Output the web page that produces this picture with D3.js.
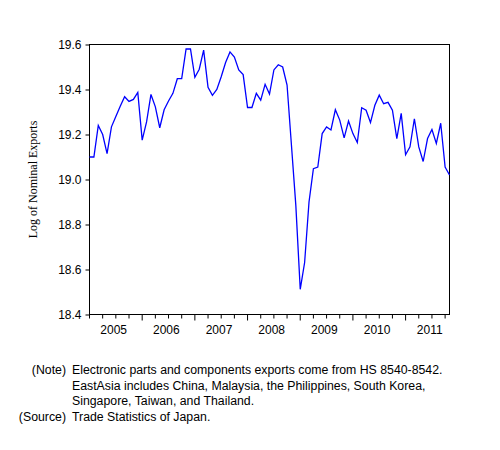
<!DOCTYPE html>
<html>
<head>
<meta charset="utf-8">
<script src="https://cdn.jsdelivr.net/npm/d3@7"></script>
<style>
  body { margin: 0; background: #fff; }
  svg { display: block; }
</style>
</head>
<body>
<svg id="chart" width="500" height="450"></svg>
<script>
// monthly observations, 2005M01 .. 2011M11
const startYear = 2005;
const exportsLog = [
  19.10, 19.10, 19.24, 19.20, 19.115, 19.234, 19.28, 19.326, 19.368, 19.347, 19.356, 19.387,
  19.175, 19.256, 19.378, 19.323, 19.23, 19.31, 19.349, 19.383, 19.448, 19.448, 19.58, 19.58,
  19.454, 19.49, 19.575, 19.41, 19.374, 19.40, 19.457, 19.52, 19.567, 19.544, 19.487, 19.466,
  19.32, 19.32, 19.383, 19.353, 19.423, 19.38, 19.487, 19.51, 19.50, 19.42, 19.152, 18.884,
  18.512, 18.631, 18.90, 19.048, 19.055, 19.204, 19.234, 19.22, 19.31, 19.264, 19.185, 19.26,
  19.204, 19.164, 19.319, 19.308, 19.253, 19.33, 19.375, 19.337, 19.343, 19.308, 19.182, 19.294,
  19.11, 19.145, 19.27, 19.145, 19.08, 19.182, 19.222, 19.16, 19.25, 19.055, 19.02
];
const yearLabels = ["2005", "2006", "2007", "2008", "2009", "2010", "2011"];
const yTicks = [18.4, 18.6, 18.8, 19.0, 19.2, 19.4, 19.6];
const yTitle = "Log of Nominal Exports";
const noteLabels = ["(Note)", "", "", "(Source)"];
const noteLines = [
  "Electronic parts and components exports come from HS 8540-8542.",
  "EastAsia includes China, Malaysia, the Philippines, South Korea,",
  "Singapore, Taiwan, and Thailand.",
  "Trade Statistics of Japan."
];

const svg = d3.select("#chart");
const plotL = 89.5, plotR = 449.5, plotT = 44.5, plotB = 314.5;

const x = d3.scaleLinear()
  .domain([0, exportsLog.length - 1])
  .range([plotL, plotR]);

const y = d3.scaleLinear()
  .domain([18.4, 19.6])
  .range([plotB, plotT]);

// frame
svg.append("rect")
  .attr("x", plotL).attr("y", plotT)
  .attr("width", plotR - plotL).attr("height", plotB - plotT)
  .attr("fill", "none").attr("stroke", "#000").attr("stroke-width", 1);

// y axis
const yAxis = svg.append("g")
  .attr("transform", `translate(${plotL},0)`)
  .call(d3.axisLeft(y).tickValues(yTicks).tickFormat(d3.format(".1f")).tickSize(4).tickPadding(4));
yAxis.select(".domain").remove();
yAxis.selectAll("text")
  .attr("font-family", "Liberation Sans, Arial, sans-serif")
  .attr("font-size", 12).attr("fill", "#000");

// x axis: quarterly ticks, longer ones at year starts
const quarters = d3.range(0, exportsLog.length, 3);
svg.append("g")
  .selectAll("line")
  .data(quarters)
  .join("line")
  .attr("x1", d => x(d)).attr("x2", d => x(d))
  .attr("y1", plotB)
  .attr("y2", d => plotB + (d % 12 === 0 && d > 0 ? 6 : 4))
  .attr("stroke", "#000");

svg.append("g")
  .selectAll("text")
  .data(yearLabels)
  .join("text")
  .attr("x", (d, i) => x(i * 12 + 5.5))
  .attr("y", plotB + 19)
  .attr("text-anchor", "middle")
  .attr("font-family", "Liberation Sans, Arial, sans-serif")
  .attr("font-size", 12)
  .text(d => d);

// y title
svg.append("text")
  .attr("transform", `translate(37,${(plotT + plotB) / 2}) rotate(-90)`)
  .attr("text-anchor", "middle")
  .attr("font-family", "Liberation Serif, Times New Roman, serif")
  .attr("font-size", 12)
  .text(yTitle);

// series
const line = d3.line()
  .x((d, i) => x(i))
  .y(d => y(d));

svg.append("path")
  .datum(exportsLog)
  .attr("d", line)
  .attr("fill", "none")
  .attr("stroke", "#0000ff")
  .attr("stroke-width", 1.3);

// notes
const notes = svg.append("g")
  .attr("font-family", "Liberation Sans, Arial, sans-serif")
  .attr("font-size", 12.3);
notes.selectAll("text.lab")
  .data(noteLabels)
  .join("text")
  .attr("class", "lab")
  .attr("x", 66).attr("y", (d, i) => 374 + i * 15.7)
  .attr("text-anchor", "end")
  .text(d => d);
notes.selectAll("text.line")
  .data(noteLines)
  .join("text")
  .attr("class", "line")
  .attr("x", 72).attr("y", (d, i) => 374 + i * 15.7)
  .text(d => d);
</script>
</body>
</html>
